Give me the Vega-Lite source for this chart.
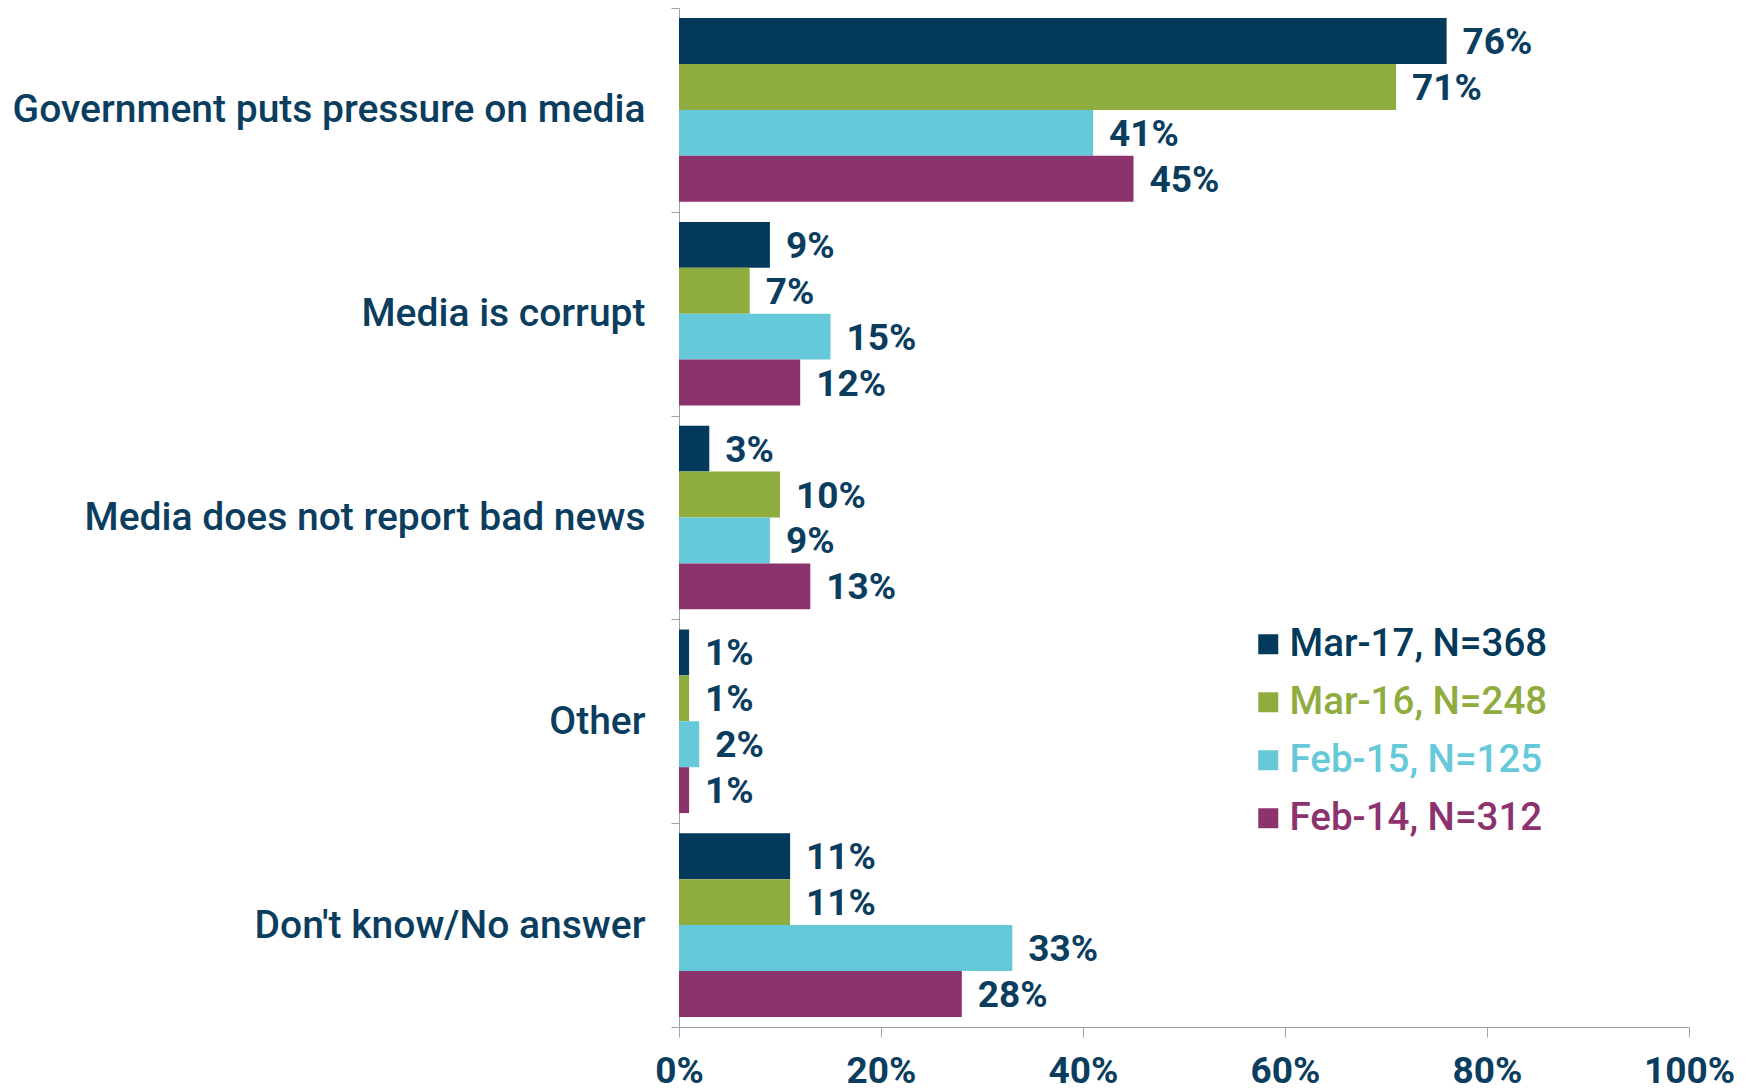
{
  "$schema": "https://vega.github.io/schema/vega-lite/v6.json",
  "width": 1010,
  "height": 1019,
  "autosize": {"type": "none"},
  "padding": {"left": 679, "top": 8, "right": 65, "bottom": 64},
  "background": "white",
  "config": {"view": {"stroke": null}, "font": "Roboto"},
  "data": {
    "values": [
      {"category": "Government puts pressure on media", "wave": "Mar-17, N=368", "value": 0.76},
      {"category": "Government puts pressure on media", "wave": "Mar-16, N=248", "value": 0.71},
      {"category": "Government puts pressure on media", "wave": "Feb-15, N=125", "value": 0.41},
      {"category": "Government puts pressure on media", "wave": "Feb-14, N=312", "value": 0.45},
      {"category": "Media is corrupt", "wave": "Mar-17, N=368", "value": 0.09},
      {"category": "Media is corrupt", "wave": "Mar-16, N=248", "value": 0.07},
      {"category": "Media is corrupt", "wave": "Feb-15, N=125", "value": 0.15},
      {"category": "Media is corrupt", "wave": "Feb-14, N=312", "value": 0.12},
      {"category": "Media does not report bad news", "wave": "Mar-17, N=368", "value": 0.03},
      {"category": "Media does not report bad news", "wave": "Mar-16, N=248", "value": 0.10},
      {"category": "Media does not report bad news", "wave": "Feb-15, N=125", "value": 0.09},
      {"category": "Media does not report bad news", "wave": "Feb-14, N=312", "value": 0.13},
      {"category": "Other", "wave": "Mar-17, N=368", "value": 0.01},
      {"category": "Other", "wave": "Mar-16, N=248", "value": 0.01},
      {"category": "Other", "wave": "Feb-15, N=125", "value": 0.02},
      {"category": "Other", "wave": "Feb-14, N=312", "value": 0.01},
      {"category": "Don't know/No answer", "wave": "Mar-17, N=368", "value": 0.11},
      {"category": "Don't know/No answer", "wave": "Mar-16, N=248", "value": 0.11},
      {"category": "Don't know/No answer", "wave": "Feb-15, N=125", "value": 0.33},
      {"category": "Don't know/No answer", "wave": "Feb-14, N=312", "value": 0.28}
    ]
  },
  "encoding": {
    "y": {
      "field": "category",
      "type": "nominal",
      "sort": ["Government puts pressure on media", "Media is corrupt", "Media does not report bad news", "Other", "Don't know/No answer"],
      "scale": {"paddingInner": 0, "paddingOuter": 0},
      "axis": {
        "title": null,
        "tickBand": "extent",
        "tickSize": 8,
        "tickColor": "#9aa3ad",
        "domainColor": "#9aa3ad",
        "labelFontSize": 39,
        "labelFontWeight": 500,
        "labelColor": "#0b3d5f",
        "labelPadding": 26,
        "labelLimit": 800
      }
    },
    "yOffset": {
      "field": "wave",
      "type": "nominal",
      "sort": ["Mar-17, N=368", "Mar-16, N=248", "Feb-15, N=125", "Feb-14, N=312"],
      "scale": {"paddingInner": 0, "paddingOuter": 0.22}
    },
    "x": {
      "field": "value",
      "type": "quantitative",
      "scale": {"domain": [0, 1]},
      "axis": {
        "title": null,
        "format": ".0%",
        "values": [0, 0.2, 0.4, 0.6, 0.8, 1],
        "grid": false,
        "tickSize": 10,
        "tickColor": "#9aa3ad",
        "domainColor": "#9aa3ad",
        "labelFontSize": 37,
        "labelFontWeight": "bold",
        "labelColor": "#0b3d5f",
        "labelPadding": 16,
        "labelFlush": false,
        "labelOverlap": false
      }
    }
  },
  "layer": [
    {
      "mark": {"type": "bar"},
      "encoding": {
        "color": {
          "field": "wave",
          "type": "nominal",
          "scale": {
            "domain": ["Mar-17, N=368", "Mar-16, N=248", "Feb-15, N=125", "Feb-14, N=312"],
            "range": ["#033a5c", "#8fad3e", "#66c9d9", "#8c336e"]
          },
          "legend": {
            "title": null,
            "orient": "none",
            "legendX": 570,
            "legendY": 617,
            "symbolType": "square",
            "symbolSize": 400,
            "symbolStrokeWidth": 0,
            "labelFontSize": 38.5,
            "labelFontWeight": 500,
            "labelOffset": 2,
            "labelLimit": 500,
            "rowPadding": 19,
            "labelColor": {"expr": "scale('color', datum.value)"}
          }
        }
      }
    },
    {
      "mark": {
        "type": "text",
        "align": "left",
        "baseline": "middle",
        "dx": 16,
        "dy": 2,
        "fontSize": 37,
        "fontWeight": "bold",
        "color": "#0b3d5f"
      },
      "encoding": {
        "text": {"field": "value", "type": "quantitative", "format": ".0%"}
      }
    }
  ]
}
